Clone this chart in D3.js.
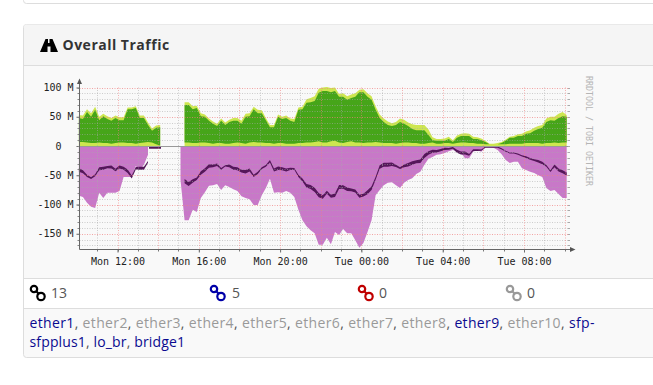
<!DOCTYPE html>
<html><head><meta charset="utf-8">
<script src="https://cdn.jsdelivr.net/npm/d3@7"></script>
<style>html,body{margin:0;padding:0;background:#fff;overflow:hidden}svg{display:block}</style>
</head><body><div id="c"></div>
<script>
// Sample hours: 10.1 + 0.2*i
const sampleStart = 10.1, sampleStep = 0.2;
const _ = null;
const greenTop = [48,46,58,50,62,44,51,46,43,48,44,44,63,63,65,48,48,36,26,31,32,_,_,_,_,_,
 70,70,63,65,51,50,43,38,34,43,36,41,43,43,38,50,51,63,56,56,44,32,32,50,46,48,43,41,62,63,74,75,77,91,94,94,92,94,84,84,79,82,84,92,92,84,79,62,48,41,36,34,36,41,38,34,29,27,27,27,19,10,9,9,9,12,7,14,17,17,17,12,12,10,7,3,3,3,5,9,14,14,17,17,21,22,26,29,31,41,44,43,48,51,50];
const capTop = [53,52,63,56,67,50,55,51,48,52,49,49,66,66,68,52,52,40,30,35,36,_,_,_,_,_,
 75,75,68,69,56,54,47,42,38,47,40,45,48,48,43,55,56,67,62,61,48,36,36,54,50,52,47,46,66,67,80,82,85,98,100,101,99,100,89,90,85,88,90,96,97,90,85,68,54,47,42,39,41,47,45,40,37,36,36,36,28,15,12,12,13,16,10,18,21,22,21,16,15,13,9,4,4,5,7,11,16,17,20,21,25,27,31,34,36,47,50,50,55,58,53];
const limeBase = [7,7,6,5,5,6,5,5,4,5,6,6,5,5,4,5,6,7,6,3,1,_,_,_,_,_,
 6,6,5,5,6,6,5,4,5,5,4,4,5,6,5,4,6,7,6,6,5,5,4,5,5,4,4,4,5,5,6,6,7,8,6,6,8,9,6,5,7,8,6,6,5,6,6,7,6,5,5,5,4,5,6,6,5,5,4,4,5,6,4,4,5,5,4,5,6,6,5,5,4,4,3,3,3,3,3,3,4,4,4,4,5,5,5,5,4,5,5,6,5,6,6];
const purpleLow = [-85,-87,-97,-104,-106,-80,-89,-80,-80,-80,-77,-53,-53,-53,-34,-41,-32,-15,_,_,_,_,_,_,_,-58,
 -127,-127,-109,-113,-89,-79,-68,-67,-65,-75,-67,-70,-74,-77,-86,-89,-91,-101,-101,-84,-72,-56,-80,-79,-80,-77,-80,-87,-109,-127,-137,-144,-149,-169,-169,-157,-168,-147,-152,-142,-149,-149,-161,-174,-166,-147,-127,-84,-75,-67,-63,-62,-67,-72,-63,-58,-55,-48,-44,-32,-22,-19,-15,-14,-12,-9,-7,-9,-12,-21,-21,-10,-7,-10,-2,-2,-3,-7,-14,-24,-29,-27,-27,-38,-41,-44,-46,-50,-53,-72,-77,-75,-82,-89,-89];
const darkMid = [-41,-44,-51,-55,-50,-39,-38,-36,-36,-41,-36,-38,-43,-53,-38,-38,-38,-27,_,_,_,_,_,_,_,_,
 -60,-65,-60,-56,-46,-41,-34,-34,-32,-39,-34,-34,-38,-39,-43,-44,-41,-51,-46,-38,-34,-26,-41,-38,-39,-41,-39,-39,-51,-58,-68,-70,-75,-84,-87,-79,-86,-84,-70,-70,-74,-75,-77,-86,-84,-79,-72,-55,-36,-32,-32,-31,-34,-38,-34,-32,-29,-27,-26,-17,-12,-9,-9,-7,-5,-5,-3,-9,-12,-12,-15,-7,-7,-7,-2,-2,-2,-2,-5,-9,-12,-12,-14,-17,-19,-22,-24,-26,-29,-34,-43,-34,-41,-44,-48];
const darkThick = [6,5,4,3,3,5,5,4,5,4,5,5,6,5,4,5,5,3,_,_,_,_,_,_,_,_,
 7,7,6,4,6,6,6,5,4,3,2,5,5,5,5,6,5,4,4,3,3,4,5,6,5,5,4,3,4,5,6,7,7,7,6,5,5,6,7,6,6,5,5,5,5,7,6,5,6,7,7,6,4,3,5,6,6,5,6,7,6,5,4,4,4,3,3,5,5,5,3,3,3,2,2,2,2,2,2,2,2,2,2,2,3,3,3,4,4,3,3,5,5,5,5];
const tailHours = [13.55,14.14];
const tailValues = [-3,-3];
const yMajor = [-150,-100,-50,0,50,100];
const hourTicks = [12,16,20,24,28,32];
const hourLabels = ["Mon 12:00","Mon 16:00","Mon 20:00","Tue 00:00","Tue 04:00","Tue 08:00"];
const statusIcons = [["#000",13],["#0000a8",5],["#c00000",0],["#999",0]];
const line1 = [["ether1",1],["ether2",0],["ether3",0],["ether4",0],["ether5",0],["ether6",0],["ether7",0],["ether8",0],["ether9",1],["ether10",0],["sfp-",1]];
const line2 = [["sfpplus1",1],["lo_br",1],["bridge1",1]];

const svg = d3.select("#c").append("svg").attr("width",653).attr("height",385);
const sans = "'Open Sans','Noto Sans',sans-serif", mono = "'DejaVu Sans Mono',monospace";

// page furniture
function panel(x,y,w,h,f){svg.append("rect").attr("x",x).attr("y",y).attr("width",w).attr("height",h).attr("rx",3).attr("fill",f).attr("stroke","#ddd");}
svg.append("rect").attr("x",23.5).attr("y",-20).attr("width",640).attr("height",23.5).attr("rx",3).attr("fill","#fff").attr("stroke","#ddd");
panel(23.5,24.5,640,333,"#f9f9f9");
svg.append("path").attr("d","M24 65V27a2.5 2.5 0 0 1 2.5-2.5H653V65Z").attr("fill","#f5f5f5");
svg.append("rect").attr("x",24).attr("y",279).attr("width",630).attr("height",29).attr("fill","#fff");
[65.5,278.5,308.5].forEach(y=>svg.append("line").attr("x1",24).attr("x2",653).attr("y1",y).attr("y2",y).attr("stroke","#ddd"));
svg.append("path").attr("d","M40 52L45.5 39H48V43H49.5V39H52.5L58 52H50.5V46.5H47.5V52Z").attr("fill","#000");
svg.append("text").attr("x",62.5).attr("y",50).attr("font-family",sans).attr("font-weight",700).attr("font-size",14).attr("letter-spacing",0.5).attr("fill","#333").text("Overall Traffic");

// scales
const x = d3.scaleLinear().domain([12,32]).range([117.5,524]);
const y = d3.scaleLinear().domain([0,100]).range([146,87.5]);
const idx = d3.range(greenTop.length);
const tOf = i => sampleStart + i*sampleStep;
const xAt = i => x(tOf(i));
const yTop = y(100), yBot = 249.5, xL = 79.5, xR = 570;

function band(lo,hi){return d3.area().defined(i=>lo(i)!=null&&hi(i)!=null).x(xAt).y0(i=>y(lo(i))).y1(i=>y(hi(i)))(idx);}
svg.append("path").attr("d",band(i=>purpleLow[i]===null?null:0,i=>purpleLow[i])).attr("fill","#c878c8");
svg.append("path").attr("d",band(i=>greenTop[i]===null?null:0,i=>capTop[i])).attr("fill","#cde650");
svg.append("path").attr("d",band(i=>limeBase[i],i=>greenTop[i])).attr("fill","#46a519");
svg.append("path").attr("d",band(i=>darkMid[i]===null?null:darkMid[i]+darkThick[i]/2,i=>darkMid[i]===null?null:darkMid[i]-darkThick[i]/2)).attr("fill","#55175a");
svg.append("path").attr("d",d3.line().x(h=>x(h)).y((h,i)=>y(tailValues[i]))(tailHours)).attr("fill","none").attr("stroke","#55175a").attr("stroke-width",2);

// grid
const grid = svg.append("g").attr("fill","none").attr("stroke-width",1).attr("stroke-dasharray","1,1.5");
d3.range(-170,101,10).forEach(v=>{ if(v%50) grid.append("line").attr("x1",xL).attr("x2",xR).attr("y1",Math.round(y(v))+.5).attr("y2",Math.round(y(v))+.5).attr("stroke","#aaa").attr("opacity",.55);});
d3.range(11,35,2).forEach(h=>grid.append("line").attr("x1",Math.round(x(h))+.5).attr("x2",Math.round(x(h))+.5).attr("y1",yTop).attr("y2",yBot).attr("stroke","#aaa").attr("opacity",.55));
yMajor.filter(v=>v).forEach(v=>grid.append("line").attr("x1",xL).attr("x2",xR).attr("y1",Math.round(y(v))+.5).attr("y2",Math.round(y(v))+.5).attr("stroke","#f08080").attr("opacity",.7));
d3.range(12,35,2).forEach(h=>grid.append("line").attr("x1",Math.round(x(h))+.5).attr("x2",Math.round(x(h))+.5).attr("y1",yTop).attr("y2",yBot).attr("stroke","#f08080").attr("opacity",.6));
svg.append("line").attr("x1",xL).attr("x2",xR).attr("y1",146.5).attr("y2",146.5).attr("stroke","#999");

// axes
const yAxis = d3.axisLeft(y).tickValues(yMajor).tickSize(3).tickPadding(3).tickFormat(v=>v===0?"0\u00a0\u00a0":v+" M");
const gy = svg.append("g").attr("transform",`translate(${xL},0)`).call(yAxis);
gy.select(".domain").remove();
const xAxis = d3.axisBottom(x).tickValues(hourTicks).tickSize(3).tickPadding(5).tickFormat((h,i)=>hourLabels[i]);
const gx = svg.append("g").attr("transform",`translate(0,${yBot})`).call(xAxis);
gx.select(".domain").remove();
[gx,gy].forEach(g=>{g.selectAll("text").attr("font-family",mono).attr("font-size",10).attr("fill","#222");g.selectAll("line").attr("stroke","#666");});
d3.range(11,35,1).forEach(h=>svg.append("line").attr("x1",Math.round(x(h))+.5).attr("x2",Math.round(x(h))+.5).attr("y1",yBot).attr("y2",yBot+2).attr("stroke","#777"));
d3.range(-170,101,10).forEach(v=>{const p=Math.round(y(v))+.5;
 svg.append("line").attr("x1",xL-2).attr("x2",xL).attr("y1",p).attr("y2",p).attr("stroke","#888");
 svg.append("line").attr("x1",xR-2).attr("x2",xR).attr("y1",p).attr("y2",p).attr("stroke","#aaa");});
svg.append("line").attr("x1",xL).attr("x2",xL).attr("y1",82).attr("y2",yBot).attr("stroke","#666");
svg.append("line").attr("x1",xL).attr("x2",571).attr("y1",yBot).attr("y2",yBot).attr("stroke","#666");
svg.append("path").attr("d","M79.5 78.5L77 84H82Z").attr("fill","#555");
svg.append("path").attr("d","M575.5 249.5L570 247V252Z").attr("fill","#555");
svg.append("text").attr("transform","translate(586,76) rotate(90)").attr("font-family",mono).attr("font-size",8.3).attr("fill","#b5b5b5").text("RRDTOOL / TOBI OETIKER");

// status row
const iconX=[30,210,358,506], countX=[51,232,379,527];
statusIcons.forEach((s,i)=>{
 const g=svg.append("g").attr("transform",`translate(${iconX[i]},285)`).attr("fill","none").attr("stroke",s[0]).attr("stroke-width",2.2);
 g.append("circle").attr("cx",4).attr("cy",4).attr("r",3.2);
 g.append("circle").attr("cx",11).attr("cy",11.5).attr("r",3.7);
 g.append("line").attr("x1",6.5).attr("y1",6.5).attr("x2",9).attr("y2",9);
 svg.append("text").attr("x",countX[i]).attr("y",298).attr("font-family",sans).attr("font-size",14).attr("fill","#555").text(s[1]);
});
// interface names
function names(list,yy,spacing){
 const t=svg.append("text").attr("x",29.5).attr("y",yy).attr("font-family",sans).attr("font-size",14).attr("letter-spacing",spacing);
 list.forEach((n,i)=>{
  t.append("tspan").attr("fill",n[1]?"#0a0a90":"#999").text(n[0]);
  if(i<list.length-1) t.append("tspan").attr("fill","#555").text(", ");
 });
}
names(line1,328,0.35); names(line2,347,0.15);
</script></body></html>
